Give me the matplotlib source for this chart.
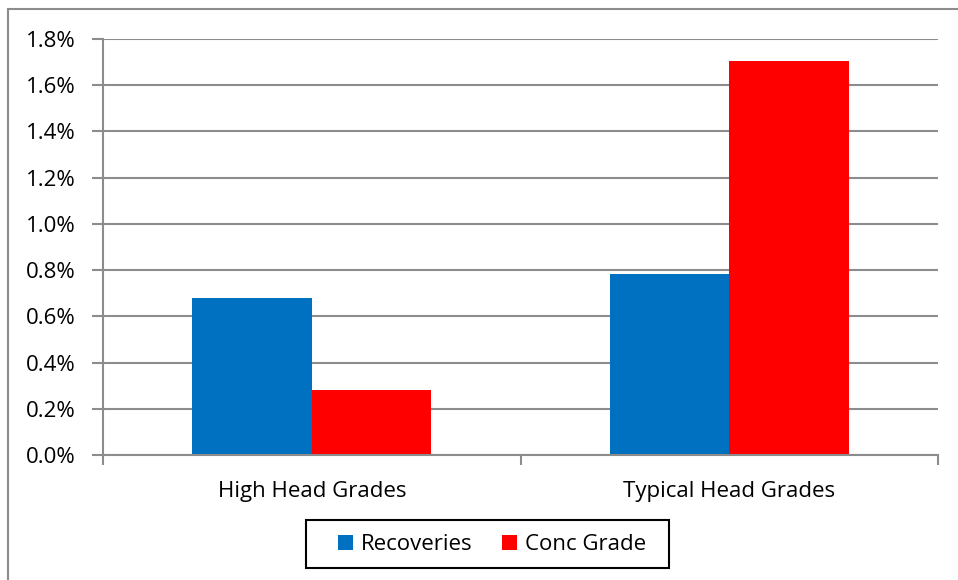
import matplotlib
matplotlib.use("Agg")
import matplotlib.pyplot as plt
import numpy as np
from matplotlib.patches import Rectangle
from matplotlib.ticker import FuncFormatter

categories = ["High Head Grades", "Typical Head Grades"]
series_names = ["Recoveries", "Conc Grade"]
recoveries = [0.68, 0.785]
conc_grade = [0.28, 1.705]
yticks = [0.0, 0.2, 0.4, 0.6, 0.8, 1.0, 1.2, 1.4, 1.6, 1.8]

plt.rcParams['font.family'] = ['Open Sans', 'DejaVu Sans']
FS = 16

fig = plt.figure(figsize=(9.58, 5.8), dpi=100)
W, H = 958, 580
ax = fig.add_axes([103 / W, 1 - 455 / H, (938 - 103) / W, (455 - 39) / H])

grid_c = '#8c8c8c'
x = np.arange(len(categories))
bw = 0.286
ax.bar(x - bw / 2, recoveries, bw, color='#0070C0', label=series_names[0], zorder=3)
ax.bar(x + bw / 2, conc_grade, bw, color='#FF0000', label=series_names[1], zorder=3)

ax.set_xlim(-0.5, 1.5)
ax.set_ylim(0, 1.8)
ax.set_yticks(yticks)
ax.yaxis.set_major_formatter(FuncFormatter(lambda v, p: f"{v:.1f}%"))
ax.set_xticks(x)
ax.set_xticklabels(categories)
ax.set_xticks([-0.5, 0.5, 1.5], minor=True)
ax.tick_params(axis='x', which='major', length=0, pad=19, labelsize=FS)
ax.tick_params(axis='x', which='minor', length=7, color=grid_c, width=1.5)
ax.tick_params(axis='y', length=8, color=grid_c, width=1.5, labelsize=FS, pad=12)
ax.grid(axis='y', color=grid_c, linewidth=1.5, zorder=0)
for s in ['top', 'right']:
    ax.spines[s].set_visible(False)
for s in ['left', 'bottom']:
    ax.spines[s].set_color(grid_c)
    ax.spines[s].set_linewidth(1.5)
ax.spines['bottom'].set_zorder(4)

leg = fig.legend(loc='center', bbox_to_anchor=(492 / W, 1 - 545 / H), ncol=2,
                 fontsize=FS, frameon=False,
                 handlelength=0.68, handleheight=0.68, handletextpad=0.36, columnspacing=1.35,
                 borderpad=0.0)

# legend frame
fig.add_artist(Rectangle((306 / W, 1 - 568 / H), (669 - 306) / W, (568 - 520) / H,
                         transform=fig.transFigure, fill=False, edgecolor='black',
                         linewidth=1.5))
# outer chart border (left and top visible)
fig.add_artist(Rectangle((8 / W, -0.1), 2, 1 - 9 / H + 0.1, transform=fig.transFigure,
                         fill=False, edgecolor='#8c8c8c', linewidth=1.5))

fig.savefig('out.png', dpi=100)
